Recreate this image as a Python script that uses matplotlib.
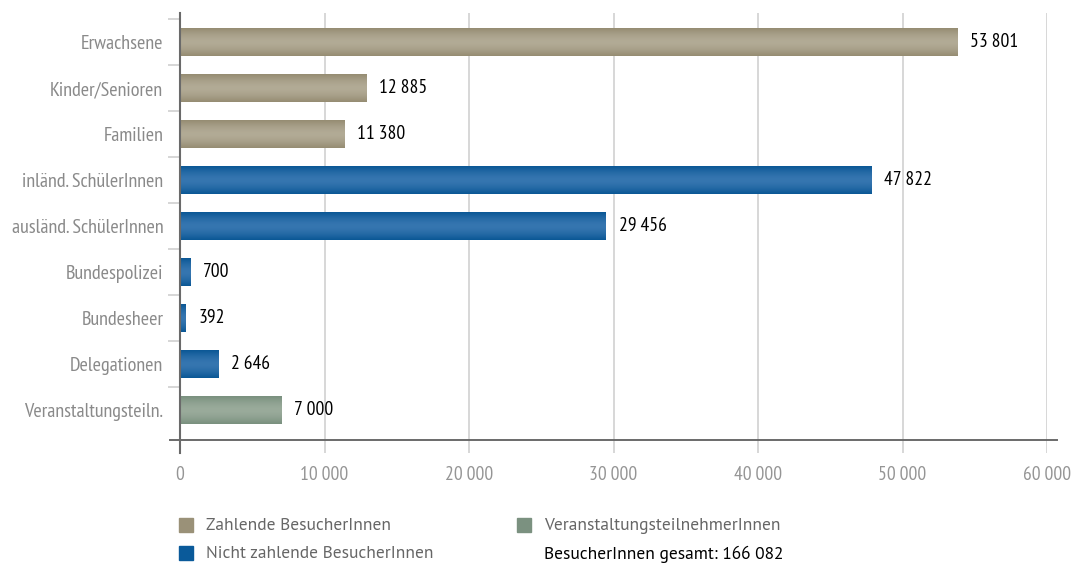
import matplotlib
matplotlib.use("Agg")
import matplotlib.pyplot as plt
import numpy as np
from matplotlib.colors import LinearSegmentedColormap
from matplotlib.patches import Rectangle

plt.rcParams['font.family'] = ['PT Sans Narrow', 'DejaVu Sans']

# Daten
kategorien = ["Erwachsene", "Kinder/Senioren", "Familien", "inländ. SchülerInnen",
              "ausländ. SchülerInnen", "Bundespolizei", "Bundesheer", "Delegationen",
              "Veranstaltungsteiln."]
besucher = [53801, 12885, 11380, 47822, 29456, 700, 392, 2646, 7000]
gruppe = ["zahlend", "zahlend", "zahlend", "nicht", "nicht", "nicht", "nicht", "nicht", "veranst"]
x_ticks = [0, 10000, 20000, 30000, 40000, 50000, 60000]
legende = ["Zahlende BesucherInnen", "Nicht zahlende BesucherInnen", "VeranstaltungsteilnehmerInnen"]
gesamt = "BesucherInnen gesamt: 166 082"

# Farben: Rand, Mitte, Legende
farben = {
    "zahlend": ("#958c72", "#b2ab96", "#9a9178"),
    "nicht": ("#0a5795", "#3676b0", "#0a5a9a"),
    "veranst": ("#79907e", "#9aab9b", "#7b9180"),
}

def fmt(v):
    return f"{v:,}".replace(",", "\u2009")

fig = plt.figure(figsize=(10.83, 5.65), dpi=100)
ax = fig.add_axes([180 / 1083, 1 - 453 / 565, (1047 - 180) / 1083, (453 - 13) / 565])

h = 0.59
grad = np.abs(np.linspace(-1, 1, 64))[:, None]
grad = 1 - grad ** 1.6
for i, (v, g) in enumerate(zip(besucher, gruppe)):
    rand, mitte, _ = farben[g]
    cmap = LinearSegmentedColormap.from_list(g, [rand, mitte])
    ax.imshow(grad, extent=[0, v, i + h / 2, i - h / 2], aspect='auto', cmap=cmap,
              vmin=0, vmax=1, interpolation='bicubic', zorder=3)
    ax.text(v + 900, i, fmt(v), va='center', ha='left', fontsize=14, color='black', zorder=4)

ax.set_xlim(0, 60000)
ax.set_ylim(8.93, -0.63)

ax.set_xticks(x_ticks)
ax.set_xticklabels([fmt(t) for t in x_ticks])
ax.set_yticks(range(len(kategorien)))
ax.set_yticklabels(kategorien)
ax.set_yticks(np.arange(-0.5, 8, 1), minor=True)
ax.tick_params(axis='x', length=0, pad=9, labelsize=14, labelcolor='#959595')
ax.tick_params(axis='y', which='major', length=0, pad=12, labelsize=14.5, labelcolor='#8a8a8a')
ax.tick_params(axis='y', which='minor', length=9, width=1.2, color='#cfcfcf')

ax.grid(axis='x', color='#d4d4d4', linewidth=1.3, zorder=0)
ax.set_axisbelow(True)
for s in ['top', 'right', 'bottom']:
    ax.spines[s].set_visible(False)
ax.spines['left'].set_color('#6a6a6a')
ax.spines['left'].set_linewidth(1.5)
ax.spines['left'].set_zorder(5)
ax.axhline(8.65, xmin=-0.012, xmax=1.012, color='#6a6a6a', linewidth=1.4, clip_on=False, zorder=5)

# Legende
leg_font = ['PT Sans', 'DejaVu Sans']
pos = [(179, 518), (179, 546), (517, 518)]
for (px, py), name, g in zip(pos, legende, ["zahlend", "nicht", "veranst"]):
    fig.patches.append(Rectangle((px / 1083, 1 - (py + 14) / 565), 14 / 1083, 14 / 565,
                                 transform=fig.transFigure, color=farben[g][2]))
    fig.text((px + 27) / 1083, 1 - (py + 8) / 565, name, fontsize=12.5, color='#666666',
             va='center', family=leg_font)
fig.text(544 / 1083, 1 - 554 / 565, gesamt, fontsize=12.5, color='black', va='center',
         family=leg_font)

fig.savefig("out.png", dpi=100)
